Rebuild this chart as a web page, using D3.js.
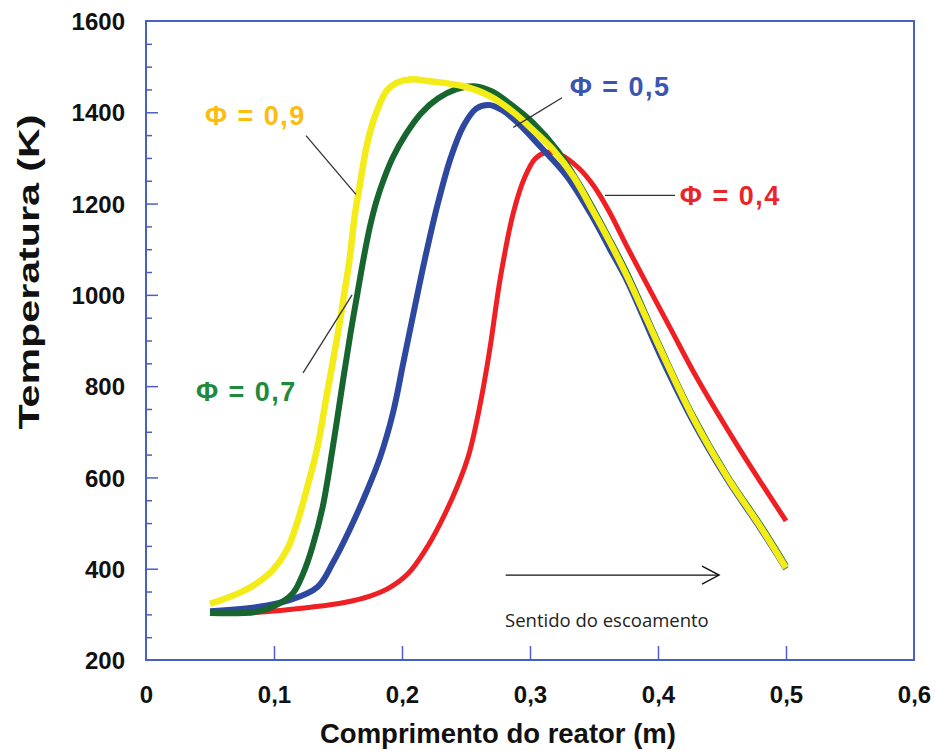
<!DOCTYPE html>
<html>
<head>
<meta charset="utf-8">
<script src="https://cdn.jsdelivr.net/npm/d3@7/dist/d3.min.js"></script>
<style>
  body { margin: 0; background: #fff; }
  svg { display: block; }
</style>
</head>
<body>
<svg id="grafico"></svg>
<script>
// Dados: comprimento do reator (m) e temperatura (K)
const xPhi04 = [0.05, 0.09, 0.13, 0.155, 0.175, 0.19, 0.205, 0.218, 0.23, 0.243, 0.252, 0.26, 0.268, 0.277, 0.287, 0.296, 0.304, 0.312, 0.323, 0.338, 0.35, 0.362, 0.375, 0.39, 0.41, 0.43, 0.464, 0.5];
const tPhi04 = [303, 305, 316, 326, 340, 358, 390, 440, 500, 579, 648, 745, 870, 1040, 1180, 1258, 1298, 1312, 1308, 1278, 1238, 1182, 1110, 1030, 925, 820, 661, 505];

const xPhi05 = [0.05, 0.087, 0.112, 0.134, 0.146, 0.159, 0.173, 0.183, 0.193, 0.201, 0.209, 0.218, 0.228, 0.238, 0.248, 0.258, 0.268, 0.278, 0.29, 0.308, 0.329, 0.349, 0.3625, 0.376, 0.402, 0.427, 0.454, 0.48, 0.5];
const tPhi05 = [307, 316, 331, 360, 413, 485, 573, 645, 742, 851, 960, 1080, 1200, 1300, 1370, 1408, 1416, 1405, 1378, 1325, 1259, 1170, 1100, 1030, 866, 725, 596, 488, 400];

const xPhi07 = [0.05, 0.087, 0.105, 0.115, 0.123, 0.13, 0.138, 0.146, 0.154, 0.16, 0.165, 0.17, 0.175, 0.18, 0.186, 0.193, 0.203, 0.215, 0.228, 0.242, 0.256, 0.27, 0.287, 0.302, 0.321, 0.339, 0.3625, 0.376, 0.402, 0.427, 0.454, 0.48, 0.5];
const tPhi07 = [303, 306, 325, 347, 391, 448, 535, 667, 814, 920, 1000, 1080, 1150, 1205, 1255, 1302, 1352, 1398, 1430, 1450, 1457, 1446, 1413, 1378, 1318, 1240, 1120, 1046, 884, 737, 604, 496, 406];

const xPhi09 = [0.05, 0.073, 0.087, 0.099, 0.11, 0.118, 0.126, 0.134, 0.141, 0.15, 0.155, 0.159, 0.163, 0.167, 0.173, 0.18, 0.188, 0.196, 0.206, 0.222, 0.248, 0.269, 0.287, 0.302, 0.318, 0.334, 0.349, 0.3625, 0.376, 0.402, 0.427, 0.454, 0.48, 0.5];
const tPhi09 = [323, 347, 369, 397, 441, 500, 579, 667, 777, 917, 1005, 1077, 1172, 1240, 1334, 1400, 1447, 1465, 1472, 1468, 1457, 1435, 1400, 1362, 1318, 1259, 1185, 1115, 1040, 880, 733, 601, 492, 402];

const xTicks = [0, 0.1, 0.2, 0.3, 0.4, 0.5, 0.6];
const xTickLabels = ["0", "0,1", "0,2", "0,3", "0,4", "0,5", "0,6"];
const yTicks = [200, 400, 600, 800, 1000, 1200, 1400, 1600];
const yMinorTicks = d3.range(250, 1600, 50).filter(v => v % 200 !== 0);

const serieNomes = ["Φ = 0,4", "Φ = 0,5", "Φ = 0,7", "Φ = 0,9"];

// Rotulos das series: posicao do texto e linha de chamada (em unidades do grafico)
const rotuloX = [0.417, 0.331, 0.039, 0.046];
const rotuloT = [1196, 1435, 768, 1373];
const chamadaDe = [[0.3586, 1218], [0.325, 1432], [0.1227, 829], [0.125, 1349]];
const chamadaAte = [[0.4133, 1218], [0.287, 1367], [0.161, 1000], [0.164, 1220]];

const setaDe = [0.281, 386];
const setaAte = [0.4477, 386];
const setaTexto = [0.2805, 272];

const svgWidth = 935, svgHeight = 751;
const margin = { top: 21, right: 21, bottom: 91, left: 146 };
const innerWidth = svgWidth - margin.left - margin.right;
const innerHeight = svgHeight - margin.top - margin.bottom;

const corEixo = "#4a60c0";
const coresLinha = ["#ee2024", "#2e48a0", "#17652f", "#f3ec19"];
const coresTexto = ["#e8262a", "#3a56b0", "#1d8a3c", "#fbbd12"];
const larguras = [5, 6, 6, 6.5];

const svg = d3.select("#grafico")
    .attr("width", svgWidth)
    .attr("height", svgHeight)
    .style("font-family", "'Liberation Sans', Arial, sans-serif");

const g = svg.append("g")
    .attr("transform", `translate(${margin.left},${margin.top})`);

const xScale = d3.scaleLinear().domain([0, 0.6]).range([0, innerWidth]);
const yScale = d3.scaleLinear().domain([200, 1600]).range([innerHeight, 0]);

// Eixos
const yAxis = d3.axisLeft(yScale).tickValues(yTicks).tickSize(-12).tickPadding(21)
    .tickFormat(d3.format("d"));
const yMinor = d3.axisLeft(yScale).tickValues(yMinorTicks).tickSize(-6).tickFormat("");
const xAxis = d3.axisBottom(xScale).tickValues(xTicks).tickSize(-14).tickPadding(26)
    .tickFormat((d, i) => xTickLabels[i]);

const gy = g.append("g").call(yAxis);
const gyMinor = g.append("g").call(yMinor);
const gx = g.append("g").attr("transform", `translate(0,${innerHeight})`).call(xAxis);

gyMinor.selectAll(".tick text").remove();

[gy, gyMinor, gx].forEach(a => {
    a.select(".domain").remove();
    a.selectAll(".tick line").attr("stroke", corEixo).attr("stroke-width", 1.5);
    a.selectAll(".tick text")
        .attr("fill", "#111")
        .style("font-size", "24px")
        .style("font-weight", "bold")
        .style("font-family", "'Liberation Sans', Arial, sans-serif");
});
gx.selectAll(".tick line").filter(d => d === 0 || d === 0.6).remove();
gy.selectAll(".tick line").filter(d => d === 200 || d === 1600).remove();
gy.selectAll(".tick text").attr("dy", "0.36em");

// Moldura
g.append("rect")
    .attr("width", innerWidth)
    .attr("height", innerHeight)
    .attr("fill", "none")
    .attr("stroke", corEixo)
    .attr("stroke-width", 2);

// Curvas
const series = [
    { x: xPhi04, t: tPhi04 },
    { x: xPhi05, t: tPhi05 },
    { x: xPhi07, t: tPhi07 },
    { x: xPhi09, t: tPhi09 }
];

const line = d3.line()
    .x(d => xScale(d[0]))
    .y(d => yScale(d[1]))
    .curve(d3.curveCatmullRom.alpha(0.5));

series.forEach((s, i) => {
    g.append("path")
        .datum(s.x.map((v, k) => [v, s.t[k]]))
        .attr("fill", "none")
        .attr("stroke", coresLinha[i])
        .attr("stroke-width", larguras[i])
        .attr("stroke-linejoin", "round")
        .attr("d", line);
});

// Linhas de chamada e rotulos
serieNomes.forEach((nome, i) => {
    g.append("line")
        .attr("x1", xScale(chamadaDe[i][0]))
        .attr("y1", yScale(chamadaDe[i][1]))
        .attr("x2", xScale(chamadaAte[i][0]))
        .attr("y2", yScale(chamadaAte[i][1]))
        .attr("stroke", "#333")
        .attr("stroke-width", 1.3);

    g.append("text")
        .attr("x", xScale(rotuloX[i]))
        .attr("y", yScale(rotuloT[i]))
        .attr("fill", coresTexto[i])
        .style("font-size", "27px")
        .style("font-weight", "bold")
        .style("letter-spacing", "1.5px")
        .text(nome);
});

// Seta "Sentido do escoamento"
const sx1 = xScale(setaDe[0]), sy = yScale(setaDe[1]), sx2 = xScale(setaAte[0]);
g.append("line")
    .attr("x1", sx1).attr("y1", sy)
    .attr("x2", sx2).attr("y2", sy)
    .attr("stroke", "#111")
    .attr("stroke-width", 1.4);
g.append("path")
    .attr("d", `M${sx2 - 17},${sy - 9}L${sx2},${sy}L${sx2 - 17},${sy + 9}`)
    .attr("fill", "none")
    .attr("stroke", "#111")
    .attr("stroke-width", 1.4);
g.append("text")
    .attr("x", xScale(setaTexto[0]))
    .attr("y", yScale(setaTexto[1]))
    .attr("fill", "#222")
    .style("font-family", "'Open Sans', sans-serif")
    .style("font-size", "18.5px")
    .text("Sentido do escoamento");

// Titulos dos eixos
svg.append("text")
    .attr("x", margin.left + innerWidth / 2 - 32)
    .attr("y", 743)
    .attr("text-anchor", "middle")
    .attr("fill", "#111")
    .style("font-size", "27.5px")
    .style("font-weight", "bold")
    .text("Comprimento do reator (m)");

svg.append("text")
    .attr("transform", "translate(39,272) rotate(-90)")
    .attr("text-anchor", "middle")
    .attr("fill", "#111")
    .style("font-size", "29px")
    .style("font-weight", "bold")
    .attr("textLength", 315)
    .attr("lengthAdjust", "spacingAndGlyphs")
    .text("Temperatura (K)");
</script>
</body>
</html>
